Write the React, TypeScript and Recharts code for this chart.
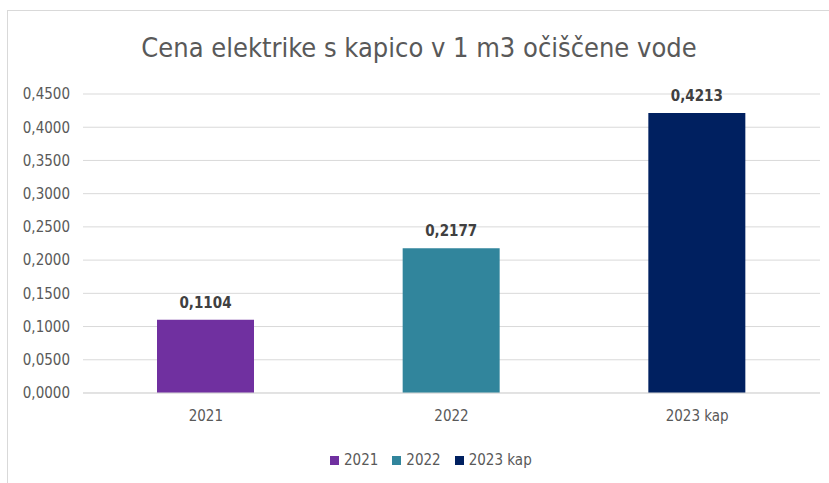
import React from 'react';
import { BarChart, Bar, XAxis, YAxis, CartesianGrid, LabelList, Cell } from 'recharts';

const categories = ['2021', '2022', '2023 kap'];
const values = [0.1104, 0.2177, 0.4213];
const colors = ['#7030a0', '#31859c', '#002060'];
const yTicks = [0, 0.05, 0.1, 0.15, 0.2, 0.25, 0.3, 0.35, 0.4, 0.45];

const data = categories.map((c, i) => ({ name: c, value: values[i] }));
const fmt = (v: number) => v.toFixed(4).replace('.', ',');
const FONT = '"Liberation Sans Narrow", "DejaVu Sans Condensed", sans-serif';

export default function App() {
  return (
    <div style={{ position: 'absolute', left: 0, top: 0, width: 829, height: 483, overflow: 'hidden', background: '#fff', fontFamily: FONT }}>
      <div style={{ position: 'absolute', left: 7, top: 10, width: 900, height: 600, border: '1px solid #d9d9d9' }} />
      <div style={{ position: 'absolute', left: 0, width: 838, top: 31, textAlign: 'center', fontSize: 27, color: '#595959', lineHeight: '34px' }}>
        Cena elektrike s kapico v 1 m3 očiščene vode
      </div>
      <div style={{ position: 'absolute', left: 0, top: 0 }}>
        <BarChart width={829} height={483} data={data} margin={{ top: 94, right: 9, left: 0, bottom: 50 }} barCategoryGap="30%">
          <CartesianGrid vertical={false} stroke="#d9d9d9" strokeWidth={1} />
          <XAxis dataKey="name" height={40} tickLine={false} axisLine={{ stroke: '#d9d9d9' }} tickSize={0} tickMargin={17}
            tick={{ fill: '#595959', fontSize: 15, fontFamily: FONT }} />
          <YAxis width={83} domain={[0, 0.45]} ticks={yTicks} tickFormatter={fmt} axisLine={false} tickLine={false} tickSize={0} tickMargin={13}
            tick={{ fill: '#595959', fontSize: 15, fontFamily: FONT }} interval={0} />
          <Bar dataKey="value" isAnimationActive={false} barSize={97}>
            {data.map((d, i) => <Cell key={d.name} fill={colors[i]} />)}
            <LabelList dataKey="value" position="top" offset={12} formatter={(v: any) => fmt(Number(v))}
              style={{ fill: '#404040', fontSize: 15, fontWeight: 'bold', fontFamily: FONT }} />
          </Bar>
        </BarChart>
      </div>
      <div style={{ position: 'absolute', left: 330, top: 450, display: 'flex', alignItems: 'center', fontSize: 15, color: '#595959', lineHeight: '20px' }}>
        {categories.map((c, i) => (
          <div key={c} style={{ display: 'flex', alignItems: 'center', marginRight: 14 }}>
            <div style={{ width: 9, height: 9, background: colors[i], marginRight: 5 }} />
            <span>{c}</span>
          </div>
        ))}
      </div>
    </div>
  );
}
